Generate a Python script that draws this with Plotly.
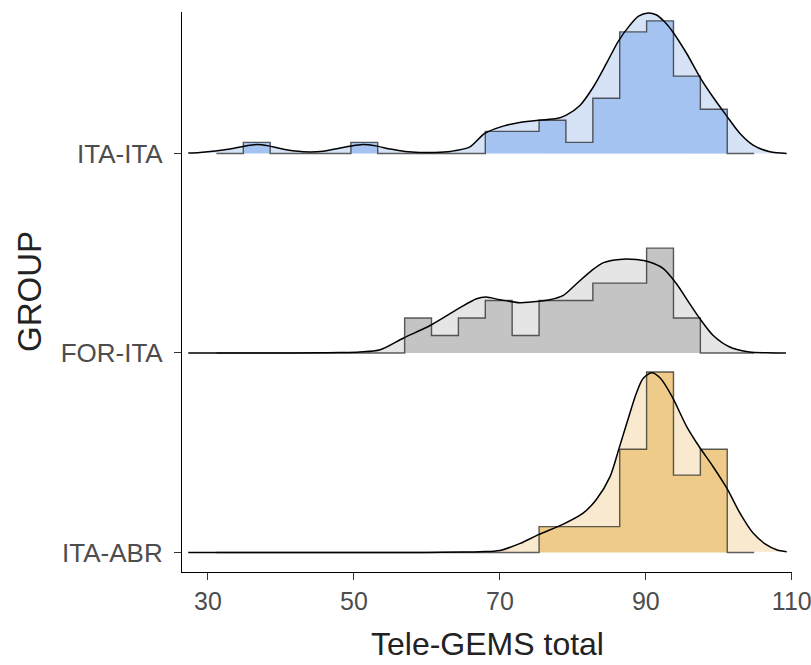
import numpy as np
import plotly.graph_objects as go

# ---------------- data ----------------
groups = ["ITA-ABR", "FOR-ITA", "ITA-ITA"]          # bottom -> top
x_min, x_max, n_bins = 33, 103, 20                   # histogram binning

counts = {
    "ITA-ITA": [0, 1, 0, 0, 0, 1, 0, 0, 0, 0, 2, 2, 3, 1, 5, 11, 12, 7, 4, 0],
    "FOR-ITA": [0, 0, 0, 0, 0, 0, 0, 2, 1, 2, 3, 1, 3, 3, 4, 4, 6, 2, 0, 0],
    "ITA-ABR": [0, 0, 0, 0, 0, 0, 0, 0, 0, 0, 0, 0, 1, 1, 1, 4, 7, 3, 4, 0],
}

# kernel density curves (x, density)
dens_x_ita_ita = [27.3, 28.9, 31.0, 33.0, 35.0, 36.7, 38.3, 39.9, 42.0, 44.0, 45.8, 47.4, 49.4,
                  51.2, 53.0, 55.0, 57.0, 59.0, 61.0, 63.2, 65.9, 67.9, 70.45, 72.7, 75.4, 77.8,
                  79.1, 81.0, 82.8, 84.6, 86.2, 87.8, 89.0, 90.3, 91.4, 92.4, 93.7, 95.6, 97.4,
                  99.2, 101.0, 102.9, 104.7, 107.0, 109.3]
dens_y_ita_ita = [0.0002, 0.0005, 0.0012, 0.0022, 0.0036, 0.0045, 0.0038, 0.0025, 0.0012, 0.0007,
                  0.0011, 0.0022, 0.0036, 0.0045, 0.0038, 0.0022, 0.0010, 0.0005, 0.0005, 0.0010,
                  0.0033, 0.0100, 0.0137, 0.0155, 0.0167, 0.0175, 0.0192, 0.0242, 0.0333, 0.0451,
                  0.0561, 0.0642, 0.0688, 0.0704, 0.0695, 0.0666, 0.0609, 0.0501, 0.0383, 0.0283,
                  0.0192, 0.0100, 0.0042, 0.0008, 0.0000]

dens_x_for_ita = [27.3, 40.0, 45.0, 48.0, 50.8, 53.6, 56.8, 60.5, 64.3, 66.8, 68.1, 70.0, 72.7,
                  75.4, 76.85, 78.7, 80.5, 82.6, 84.2, 86.4, 88.7, 90.5, 92.4, 94.2, 96.0, 97.4,
                  99.2, 101.5, 104.2, 106.5, 109.2]
dens_y_for_ita = [0.0, 0.0, 0.0001, 0.0002, 0.0005, 0.0016, 0.0075, 0.0139, 0.0222, 0.0272, 0.0280,
                  0.0267, 0.0252, 0.0259, 0.0267, 0.0289, 0.0347, 0.0414, 0.0453, 0.0469, 0.0468,
                  0.0456, 0.0423, 0.0347, 0.0247, 0.0172, 0.0089, 0.0030, 0.0005, 0.0001, 0.0]

dens_x_ita_abr = [27.3, 50.0, 60.0, 65.0, 67.3, 70.0, 72.7, 75.3, 78.7, 81.4, 83.2, 85.1, 86.3,
                  87.6, 88.7, 89.6, 90.8, 92.0, 93.6, 95.6, 97.3, 99.2, 101.1, 102.9, 104.7,
                  106.5, 108.0, 109.3]
dens_y_ita_abr = [0.0, 0.0, 0.0, 0.0002, 0.0004, 0.0010, 0.0044, 0.0089, 0.0142, 0.0197, 0.0264,
                  0.0380, 0.0518, 0.0673, 0.0798, 0.0871, 0.0901, 0.0873, 0.0781, 0.0631, 0.0531,
                  0.0431, 0.0322, 0.0197, 0.0097, 0.0039, 0.0012, 0.0004]

density = {
    "ITA-ITA": (dens_x_ita_ita, dens_y_ita_ita),
    "FOR-ITA": (dens_x_for_ita, dens_y_for_ita),
    "ITA-ABR": (dens_x_ita_abr, dens_y_ita_abr),
}

x_ticks = [30, 50, 70, 90, 110]

# ---------------- styles ----------------
bar_colors = {"ITA-ITA": "#A4C3F0", "FOR-ITA": "#C4C4C4", "ITA-ABR": "#EECB88"}
light_colors = {"ITA-ITA": "#D6E3F7", "FOR-ITA": "#E5E5E5", "ITA-ABR": "#F8E9CF"}
SCALE = 10.0   # ridge height scaling (density -> y units)

bw = (x_max - x_min) / (n_bins - 1)
edges = x_min - bw / 2 + bw * np.arange(n_bins + 1)

fig = go.Figure()
for gi, g in enumerate(groups):
    base = gi + 1
    c = np.array(counts[g], dtype=float)
    n = c.sum()
    h = base + c / (n * bw) * SCALE

    dx, dy = density[g]
    dy_abs = base + np.array(dy) * SCALE

    # density fill
    fig.add_trace(go.Scatter(x=dx, y=dy_abs, mode="lines", fill="toself",
                             fillcolor=light_colors[g], line=dict(width=0, shape="spline"),
                             hoverinfo="skip", showlegend=False))
    # histogram step outline + fill
    sx = [edges[0]]
    sy = [base]
    for i in range(n_bins):
        sx += [edges[i], edges[i + 1]]
        sy += [h[i], h[i]]
    sx.append(edges[-1])
    sy.append(base)
    fig.add_trace(go.Scatter(x=sx, y=sy, mode="lines", fill="toself",
                             fillcolor=bar_colors[g],
                             line=dict(color="rgba(40,40,40,0.75)", width=1.4),
                             hoverinfo="skip", showlegend=False))
    # density line
    fig.add_trace(go.Scatter(x=dx, y=dy_abs, mode="lines",
                             line=dict(color="black", width=1.5, shape="spline", smoothing=0.8),
                             hoverinfo="skip", showlegend=False))

font_family = "Liberation Sans, Arial, sans-serif"
fig.update_layout(
    width=811, height=665,
    margin=dict(l=182, r=19, t=12, b=93, autoexpand=False),
    paper_bgcolor="white", plot_bgcolor="white",
    font=dict(family=font_family),
    xaxis=dict(range=[26.44, 110.03], tickvals=x_ticks, ticktext=[str(v) for v in x_ticks],
               showgrid=False, zeroline=False, showline=True, linecolor="black", linewidth=1.2,
               ticks="outside", ticklen=7, tickwidth=1.2, tickcolor="#333333",
               ticklabeloverflow="allow", automargin=False,
               tickfont=dict(size=25, color="#4D4D4D", family=font_family)),
    yaxis=dict(range=[0.902, 3.709], tickvals=[1, 2, 3], ticktext=groups,
               showgrid=False, zeroline=False, showline=True, linecolor="black", linewidth=1.2,
               ticks="outside", ticklen=7, tickwidth=1.2, tickcolor="#333333",
               ticklabelstandoff=6, automargin=False,
               tickfont=dict(size=26, color="#4D4D4D", family=font_family)),
    annotations=[
        dict(text="Tele-GEMS total", xref="paper", yref="paper", x=0.5, y=0,
             xanchor="center", yanchor="middle", yshift=-72, showarrow=False,
             font=dict(size=32, color="#222222", family=font_family)),
        dict(text="GROUP", xref="paper", yref="paper", x=0, y=0.5, textangle=-90,
             xanchor="center", yanchor="middle", xshift=-153, showarrow=False,
             font=dict(size=33, color="#222222", family=font_family)),
    ],
)

fig.write_html("out.html")
